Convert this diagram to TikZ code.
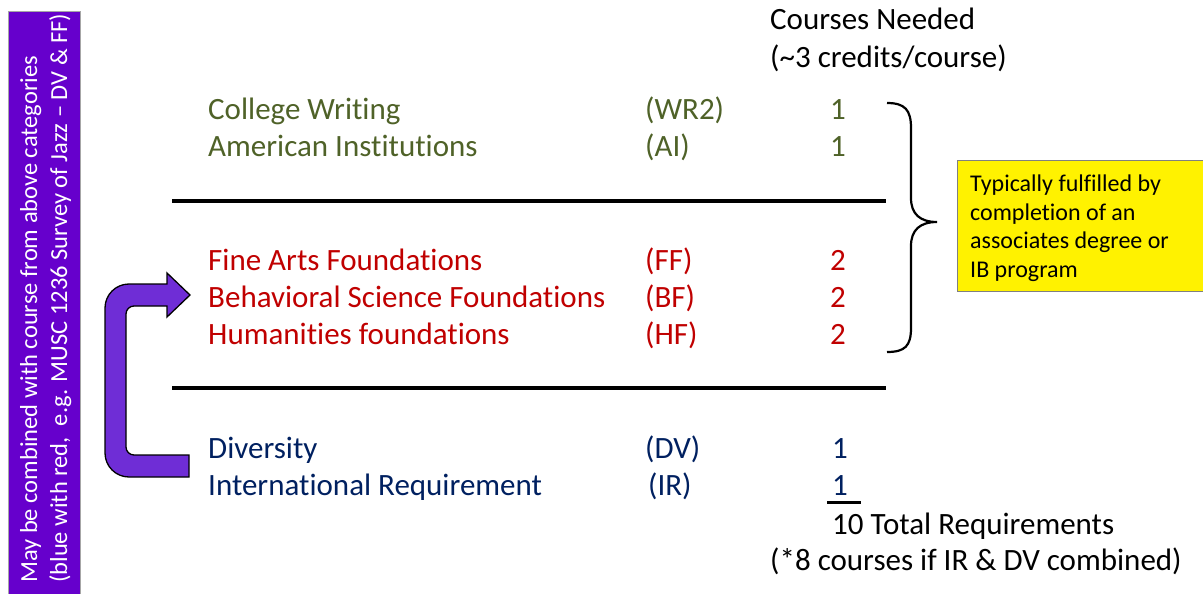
\documentclass[tikz,border=0pt]{standalone}
\usepackage{fontspec}
\setmainfont{Carlito}[Ligatures={NoCommon}]
\definecolor{grn}{HTML}{4F6228}
\definecolor{rd}{HTML}{C00000}
\definecolor{blu}{HTML}{002060}
\definecolor{boxpurple}{HTML}{6600CC}
\definecolor{arrpurple}{HTML}{6F2DD6}
\tikzset{
  lbl/.style={inner sep=0pt, anchor=base west, font=\fontsize{31}{37}\selectfont},
  num/.style={inner sep=0pt, anchor=base, font=\fontsize{31}{37}\selectfont},
  rule/.style={line width=3.5pt, black},
}
\begin{document}
\begin{tikzpicture}[x=1pt,y=-1pt]
\useasboundingbox (0,0) rectangle (1203,594);
% side box
\draw[fill=boxpurple, draw=gray!70, line width=1pt] (8,12) rectangle (80,610);
\node[rotate=90, anchor=base west, inner sep=0pt, text=white, align=left,
      font=\fontsize{24.5}{30}\selectfont] (side) at (67,583)
  {May be combined with course from above categories\\(blue with red,\ \ e.g. MUSC 1236 Survey of Jazz -- DV \& FF)};
% header
\node[lbl] (hdr1) at (770,30) {Courses Needed};
\node[lbl] (hdr2) at (770,68) {(\textasciitilde 3 credits/course)};
% green
\node[lbl, text=grn] (cw) at (208,120) {College Writing};
\node[lbl, text=grn] (ai) at (208,157) {American Institutions};
\node[lbl, text=grn] (cwc) at (645,120) {(WR2)};
\node[lbl, text=grn] (aic) at (645,157) {(AI)};
\node[num, text=grn] (cwn) at (838,120) {1};
\node[num, text=grn] (ain) at (838,157) {1};
% rules
\coordinate (r1a) at (172,201); \coordinate (r1b) at (886,201);
\coordinate (r2a) at (172,388); \coordinate (r2b) at (886,388);
\draw[rule] (r1a) -- (r1b);
\draw[rule] (r2a) -- (r2b);
% red
\node[lbl, text=rd] (fa) at (208,270) {Fine Arts Foundations};
\node[lbl, text=rd] (bs) at (208,307) {Behavioral Science Foundations};
\node[lbl, text=rd] (hf) at (208,344) {Humanities foundations};
\node[lbl, text=rd] (fac) at (645,270) {(FF)};
\node[lbl, text=rd] (bsc) at (645,307) {(BF)};
\node[lbl, text=rd] (hfc) at (645,344) {(HF)};
\node[num, text=rd] (fan) at (838,270) {2};
\node[num, text=rd] (bsn) at (838,307) {2};
\node[num, text=rd] (hfn) at (838,344) {2};
% blue
\node[lbl, text=blu] (dv) at (208,458) {Diversity};
\node[lbl, text=blu] (ir) at (208,495) {International Requirement};
\node[lbl, text=blu] (dvc) at (645,458) {(DV)};
\node[lbl, text=blu] (irc) at (648,495) {(IR)};
\node[num, text=blu] (dvn) at (840,458) {1};
\node[num, text=blu] (irn) at (840,495) {1};
\coordinate (ul1) at (827,502); \coordinate (ul2) at (861,502);
\draw[line width=3pt] (ul1) -- (ul2);
% totals
\node[lbl] (tot) at (832,534) {10 Total Requirements};
\node[lbl] (note) at (770,570) {(*8 courses if IR \& DV combined)};
% brace
\coordinate (bt) at (887,103);
\coordinate (bb) at (887,352);
\coordinate (btip) at (937,222);
\draw[line width=2.2pt] (bt) .. controls (905,103) and (911,110) .. (911,128)
  -- (911,198) .. controls (911,214) and (920,222) .. (btip)
  .. controls (920,222) and (911,230) .. (911,246)
  -- (911,328) .. controls (911,346) and (905,352) .. (bb);
% yellow box
\draw[fill=yellow, draw=gray, line width=1pt] (957,160) rectangle (1215,291);
\node[inner sep=0pt, anchor=base west, align=left, font=\fontsize{24}{28.5}\selectfont] (yb) at (970,277)
  {Typically fulfilled by\\completion of an\\associates degree or\\IB program};
% U-turn arrow
\draw[fill=arrpurple, draw=black, line width=1.3pt]
  (189,477) [rounded corners=24pt] -- (105,477) -- (105,284) [sharp corners] -- (167,284)
  -- (167,273) -- (190,295) -- (167,317) -- (167,306)
  [rounded corners=8pt] -- (126,306) -- (126,455) [sharp corners] -- (189,455) -- cycle;
\end{tikzpicture}
\end{document}
